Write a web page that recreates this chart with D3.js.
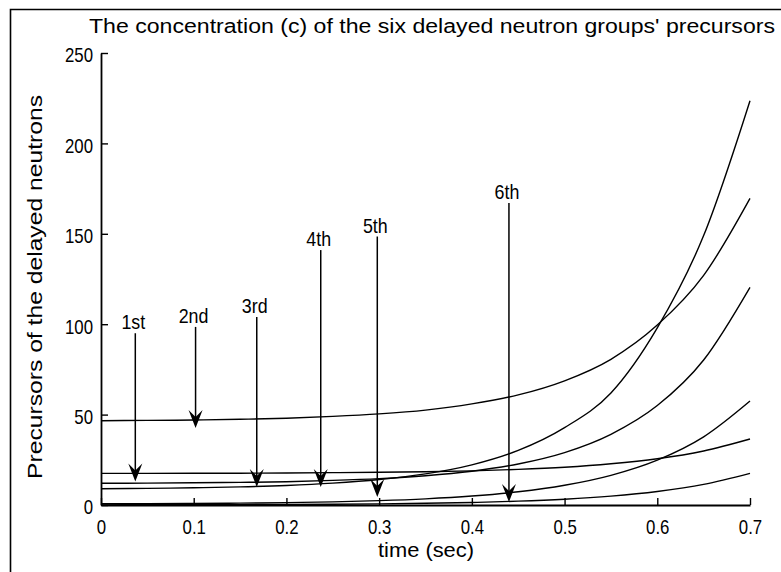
<!DOCTYPE html>
<html><head><meta charset="utf-8">
<script src="https://cdn.jsdelivr.net/npm/d3@7"></script>
<style>
body{margin:0;background:#fff}
svg{display:block}
text{font-family:"Liberation Sans",Arial,sans-serif;fill:#000}
</style>
</head><body>
<svg id="c" width="781" height="572"></svg>
<script>
// ---- data ----
const time = [0,0.05,0.1,0.15,0.2,0.25,0.3,0.35,0.4,0.45,0.5,0.55,0.6,0.65,0.7];
const group1 = [17.5,17.5,17.6,17.6,17.7,17.9,18.1,18.4,18.9,19.7,20.9,22.8,25.6,29.9,36.5];
const group2 = [46.6,46.8,47.0,47.4,48.0,49.0,50.4,52.5,55.9,60.9,68.7,80.6,99.5,127,169.6];
const group3 = [12,12.1,12.3,12.5,12.9,13.6,14.6,16.2,18.7,22.7,29.0,39.1,55.0,80.2,120.4];
const group4 = [9,9.2,9.5,10.0,10.8,12.1,14.1,17.2,22.2,30.2,42.8,62,98,149,223.6];
const group5 = [0.66,0.74,0.86,1.04,1.32,1.75,2.41,3.41,4.95,7.29,10.9,16.4,24.8,37.7,57.5];
const group6 = [0.09,0.11,0.15,0.21,0.29,0.42,0.63,0.93,1.41,2.12,3.22,4.91,7.49,11.4,17.5];
const seriesList = [group1,group2,group3,group4,group5,group6];

const xTicks = [0,0.1,0.2,0.3,0.4,0.5,0.6,0.7];
const xTickLabels = ["0","0.1","0.2","0.3","0.4","0.5","0.6","0.7"];
const yTicks = [0,50,100,150,200,250];
const yTickLabels = ["0","50","100","150","200","250"];

const arrowLabels = ["1st","2nd","3rd","4th","5th","6th"];
const arrowTimes  = [0.037,0.102,0.168,0.237,0.298,0.44];
const arrowTops   = [95,98.5,104,141,148.5,167];
const arrowTips   = [13,42.6,10,10,4.4,1.7];

const titleText = "The concentration (c) of the six delayed neutron groups' precursors";
const xLabel = "time (sec)";
const yLabel = "Precursors of the delayed neutrons";

// ---- drawing ----
const svg = d3.select("#c");
svg.append("rect").attr("width",781).attr("height",572).attr("fill","#fff");
svg.append("path").attr("d","M10.5,572 V9.5 H781")
  .attr("fill","none").attr("stroke","#000").attr("stroke-width",1.6);

const x = d3.scaleLinear().domain([0,0.7]).range([101,750]);
const y = d3.scaleLinear().domain([0,250]).range([505,53]);

function squeeze(sel, f){
  sel.each(function(){
    const L = this.getComputedTextLength();
    d3.select(this).attr("textLength", L*f).attr("lengthAdjust","spacingAndGlyphs");
  });
}

// curves
const line = d3.line().x((d,i)=>x(time[i])).y(d=>y(d)).curve(d3.curveMonotoneX);
svg.append("g").selectAll("path").data(seriesList).join("path")
  .attr("d", d=>line(d)).attr("fill","none").attr("stroke","#000")
  .attr("stroke-width",1.4);

// axes
const gx = svg.append("g").attr("transform","translate(0,505)")
  .call(d3.axisBottom(x).tickValues(xTicks).tickFormat((d,i)=>xTickLabels[i])
        .tickSize(-7).tickSizeOuter(0).tickPadding(14));
const gy = svg.append("g").attr("transform","translate(101,0)")
  .call(d3.axisLeft(y).tickValues(yTicks).tickFormat((d,i)=>yTickLabels[i])
        .tickSize(-7).tickSizeOuter(0).tickPadding(8));
[gx,gy].forEach(g=>{
  g.select(".domain").attr("stroke","#000").attr("stroke-width",1.8);
  g.selectAll(".tick line").attr("stroke","#000").attr("stroke-width",1.4);
  g.selectAll("text").attr("font-size",21).attr("font-family","Liberation Sans, Arial, sans-serif").attr("fill","#000");
});
gy.selectAll("text").attr("dy","0.42em");
squeeze(gx.selectAll("text"),0.8);
squeeze(gy.selectAll("text"),0.8);

// arrows
const ag = svg.append("g");
arrowLabels.forEach((lab,i)=>{
  const ax = x(arrowTimes[i]);
  const yt = y(arrowTops[i]);
  const yp = y(arrowTips[i]);
  ag.append("line").attr("x1",ax).attr("x2",ax).attr("y1",yt).attr("y2",yp-8)
    .attr("stroke","#000").attr("stroke-width",1.5);
  ag.append("path")
    .attr("d",`M${ax},${yp} L${ax-7},${yp-18} L${ax},${yp-11} L${ax+7},${yp-18} Z`)
    .attr("fill","#000");
  const tx = ag.append("text").attr("x",ax-2).attr("y",yt-4).attr("text-anchor","middle")
    .attr("font-size",21).text(lab);
  squeeze(tx,0.85);
});

// title & labels
const t = svg.append("text").attr("x",432).attr("y",33).attr("text-anchor","middle")
  .attr("font-size",20).text(titleText);
t.attr("textLength",686).attr("lengthAdjust","spacingAndGlyphs");
svg.append("text").attr("x",426).attr("y",557).attr("text-anchor","middle")
  .attr("font-size",21).attr("textLength",96).attr("lengthAdjust","spacingAndGlyphs").text(xLabel);
svg.append("text").attr("transform","translate(42,287) rotate(-90)").attr("text-anchor","middle")
  .attr("font-size",21).attr("textLength",384).attr("lengthAdjust","spacingAndGlyphs").text(yLabel);
</script>
</body></html>
